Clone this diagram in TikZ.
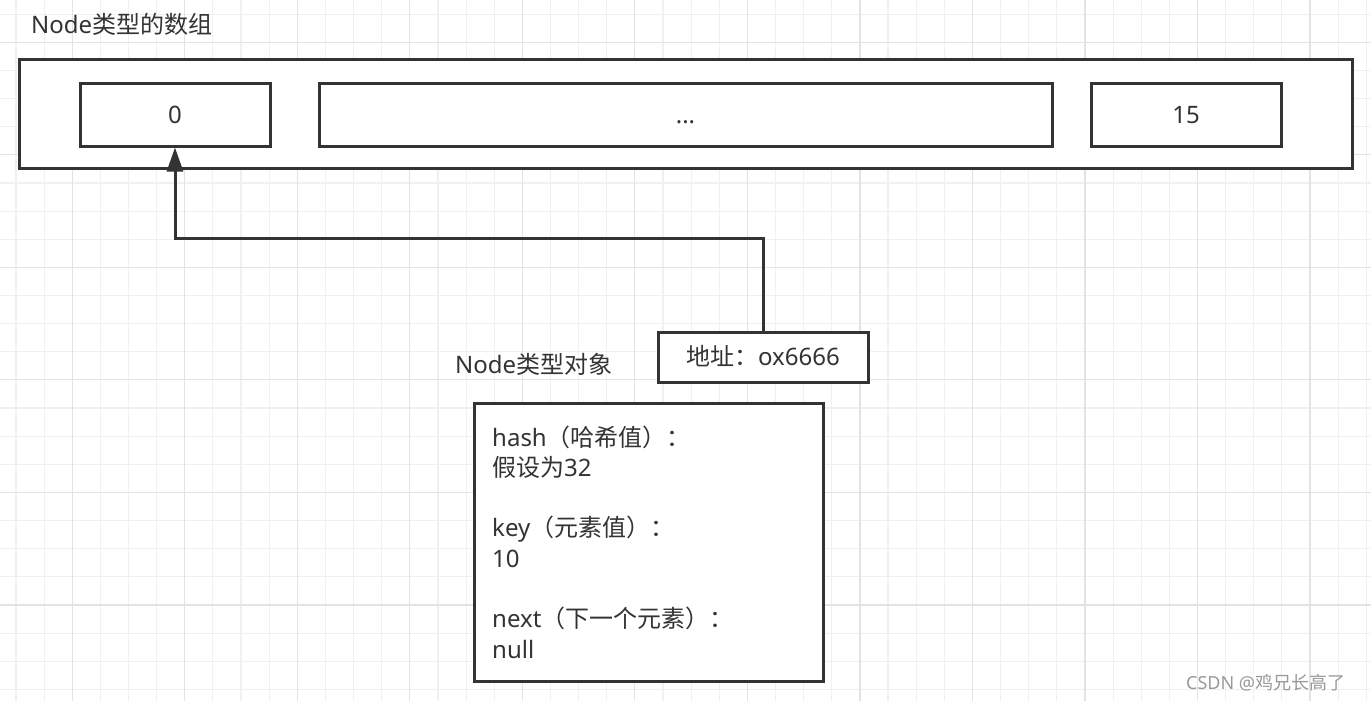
\documentclass[tikz,border=0pt]{standalone}
\usepackage{fontspec}
\setmainfont{Noto Sans}
\newfontfamily\cjk{Noto Sans CJK SC}
\usetikzlibrary{arrows.meta}
\definecolor{ink}{HTML}{333333}
\definecolor{gmin}{HTML}{F0F0F0}
\definecolor{gmaj}{HTML}{E3E3E3}
\definecolor{wm}{HTML}{999999}
\begin{document}
\begin{tikzpicture}[x=1pt,y=-1pt,
  font=\fontsize{24}{30}\selectfont, text=ink,
  box/.style={draw=ink, line width=3pt, fill=white, inner sep=0pt, text height=17pt, text depth=0pt},
  lbl/.style={inner sep=0pt, anchor=base west},
  minorline/.style={draw=gmin, line width=1.1pt},
  majorline/.style={draw=gmaj, line width=1.2pt},
  link/.style={draw=ink, line width=3pt, -{Triangle[length=24pt,width=16pt]}}]
\fill[white] (0,0) rectangle (1371,701);
\useasboundingbox (0,0) rectangle (1371,701);
% grid
\foreach \i in {0,...,48} { \draw[minorline] ({16+28.13*\i},0) -- ++(0,701); }
\foreach \j in {0,...,24} { \draw[minorline] (0,{14.2+28.13*\j}) -- ++(1371,0); }
\foreach \i in {2,6,...,46} { \draw[majorline] ({16+28.13*\i},0) -- ++(0,701); }
\foreach \j in {1,5,...,21} { \draw[majorline] (0,{14.2+28.13*\j}) -- ++(1371,0); }
% array
\node[lbl] (title) at (31,34) {Node{\cjk 类型的数组}};
\node[box, minimum width=1333pt, minimum height=108pt] (arr) at (685.5,114) {};
\node[box, minimum width=190pt, minimum height=62pt] (c0) at (175,115) {0};
\node[box, minimum width=733pt, minimum height=62pt] (cdots) at (685.5,115) {...};
\node[box, minimum width=190pt, minimum height=62pt] (c15) at (1186,115) {15};
% object
\node[lbl] (objtitle) at (455,373) {Node{\cjk 类型对象}};
\node[box, minimum width=210pt, minimum height=50pt] (addr) at (763,357) {{\cjk 地址：}ox6666};
\node[box, minimum width=349pt, minimum height=278pt] (obj) at (648.5,542) {};
\node[lbl] (h1) at (492,446) {hash{\cjk （哈希值）：}};
\node[lbl] (h2) at (492,476.3) {{\cjk 假设为}32};
\node[lbl] (k1) at (492,536.9) {key{\cjk （元素值）：}};
\node[lbl] (k2) at (492,567.2) {10};
\node[lbl] (n1) at (492,627.8) {next{\cjk （下一个元素）：}};
\node[lbl] (n2) at (492,658.1) {null};
% connector
\coordinate (knee) at (175,238);
\draw[link] (addr.north) |- (knee) -- (c0.south);
% watermark
\node[lbl, font=\fontsize{18}{20}\selectfont, text=wm] (wmk) at (1186,689) {CSDN @{\cjk 鸡兄长高了}};
\end{tikzpicture}
\end{document}
